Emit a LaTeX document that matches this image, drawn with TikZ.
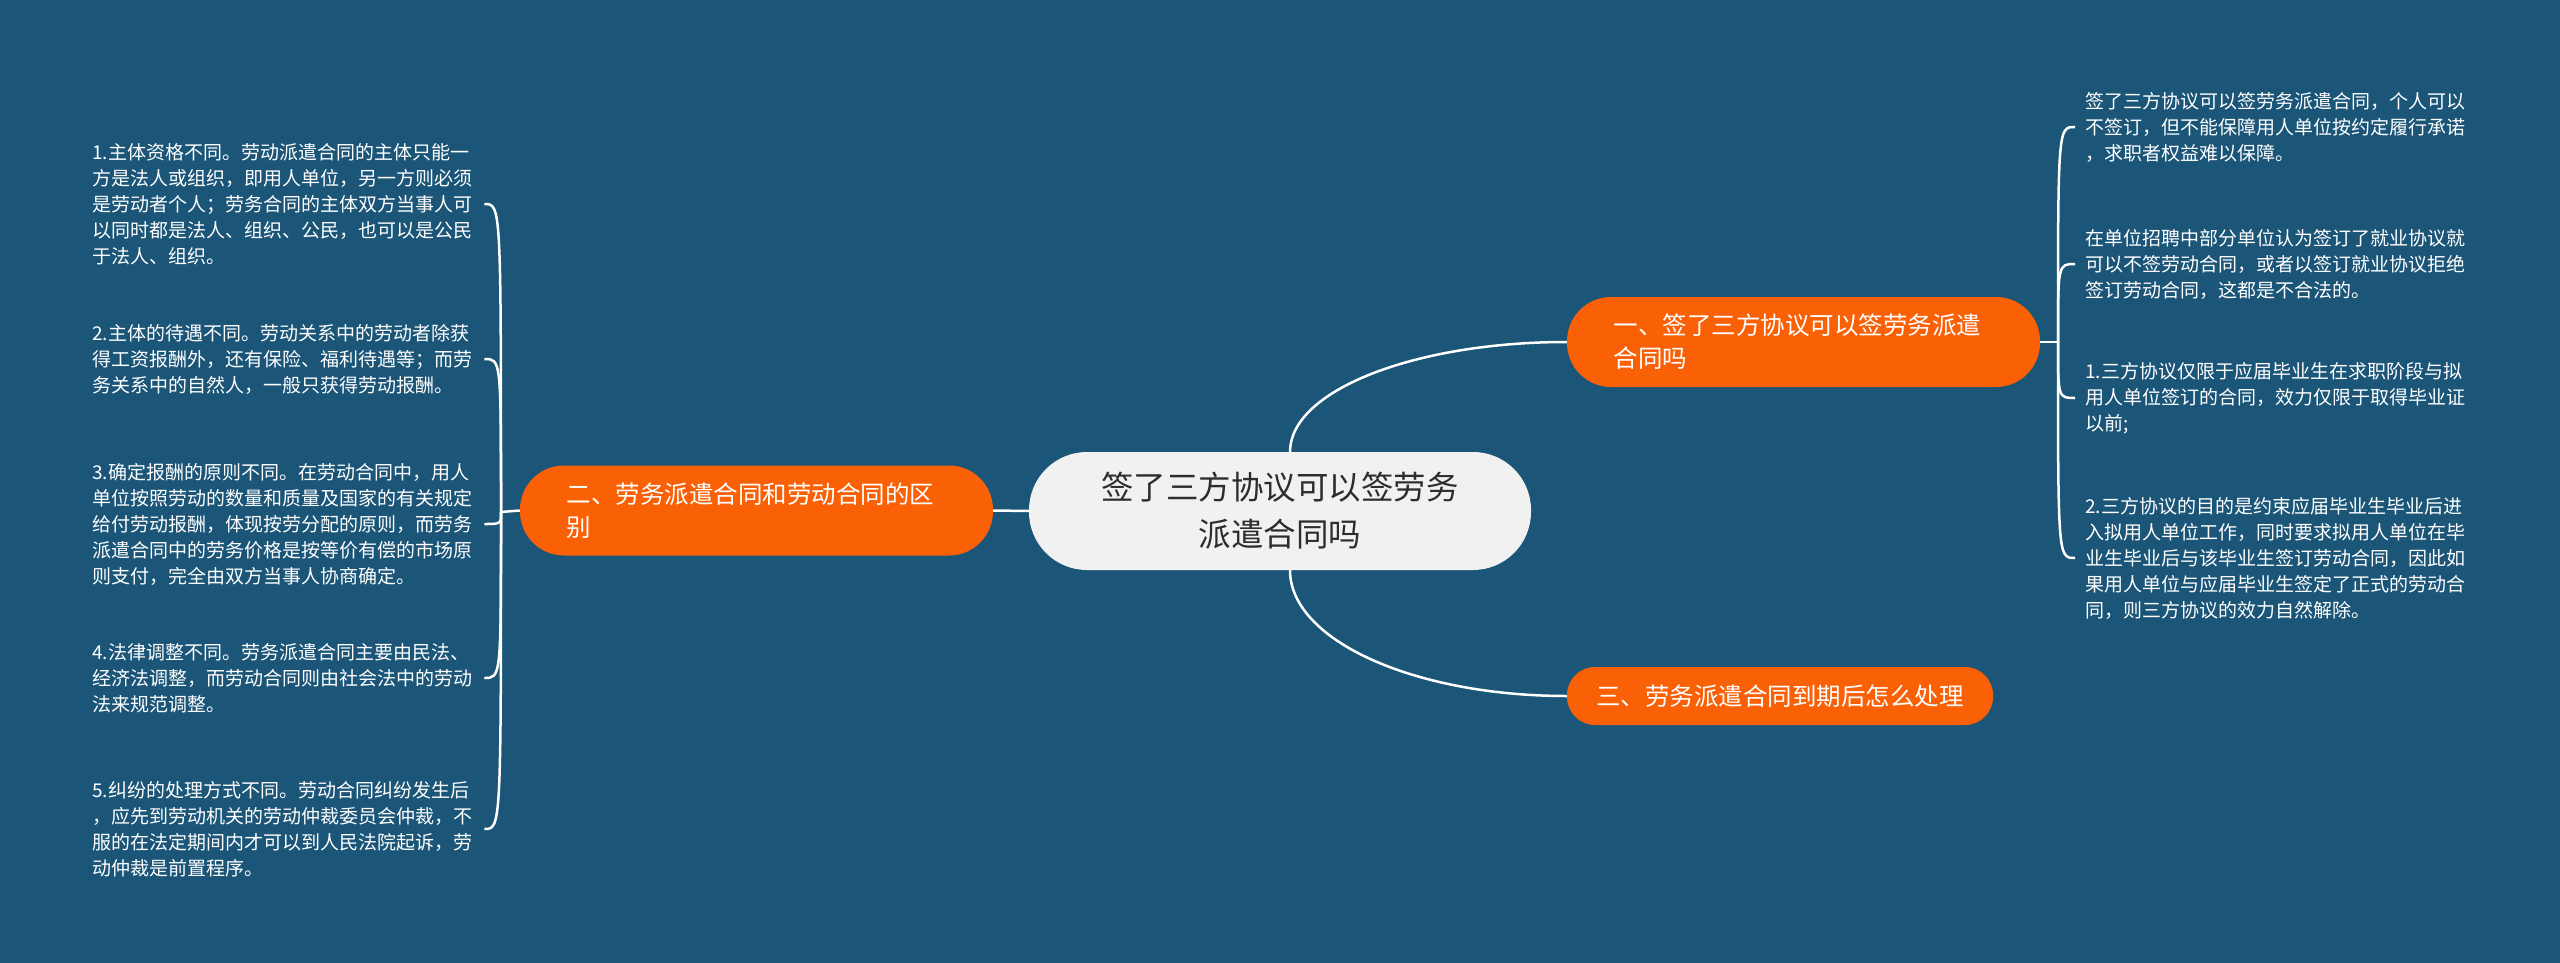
\documentclass[tikz,border=0pt]{standalone}
\usepackage{fontspec}
\usepackage{xcolor}
\usepackage{tikz}
\newfontfamily\cjkfont{Noto Sans CJK SC}
\definecolor{mapbg}{RGB}{27,85,120}
\definecolor{branchorange}{RGB}{250,96,5}
\definecolor{rootgray}{RGB}{241,241,241}
\definecolor{rootink}{RGB}{45,45,45}

\begin{document}
\begin{tikzpicture}[x=1pt,y=-1pt,
  root/.style={fill=rootgray,text=rootink,align=center,rounded corners=58pt,
    minimum width=502pt,minimum height=118pt,
    font=\cjkfont\fontsize{32.5}{47}\selectfont},
  branch/.style={fill=branchorange,text=white,align=left,rounded corners=44pt,
    text width=380pt,inner xsep=46.5pt,minimum height=90pt,
    font=\cjkfont\fontsize{24.5}{33}\selectfont},
  leaf/.style={text=white,align=left,inner sep=0pt,
    font=\cjkfont\fontsize{19}{26}\selectfont},
  link/.style={white,line width=2.5pt}]
  \fill[mapbg] (0,0) rectangle (2560,963);
  \useasboundingbox (0,0) rectangle (2560,963);

  \node[root] (root) at (1280,511) {签了三方协议可以签劳务\\派遣合同吗};
  \node[branch] (b1) at (1803.5,342) {一、签了三方协议可以签劳务派遣\\合同吗};
  \node[branch] (b2) at (756.5,510.5) {二、劳务派遣合同和劳动合同的区\\别};
  \node[branch,text width=368pt,inner xsep=29pt,minimum height=58pt,
    rounded corners=28pt] (b3) at (1780,696) {三、劳务派遣合同到期后怎么处理};

  \node[leaf,anchor=west] (r1) at (2085,127)
    {签了三方协议可以签劳务派遣合同，个人可以\\不签订，但不能保障用人单位按约定履行承诺\\，求职者权益难以保障。};
  \node[leaf,anchor=west] (r2) at (2085,264)
    {在单位招聘中部分单位认为签订了就业协议就\\可以不签劳动合同，或者以签订就业协议拒绝\\签订劳动合同，这都是不合法的。};
  \node[leaf,anchor=west] (r3) at (2085,398)
    {1.三方协议仅限于应届毕业生在求职阶段与拟\\用人单位签订的合同，效力仅限于取得毕业证\\以前;};
  \node[leaf,anchor=west] (r4) at (2085,558)
    {2.三方协议的目的是约束应届毕业生毕业后进\\入拟用人单位工作，同时要求拟用人单位在毕\\业生毕业后与该毕业生签订劳动合同，因此如\\果用人单位与应届毕业生签定了正式的劳动合\\同，则三方协议的效力自然解除。};

  \node[leaf,anchor=west] (l1) at (92,204)
    {1.主体资格不同。劳动派遣合同的主体只能一\\方是法人或组织，即用人单位，另一方则必须\\是劳动者个人；劳务合同的主体双方当事人可\\以同时都是法人、组织、公民，也可以是公民\\于法人、组织。};
  \node[leaf,anchor=west] (l2) at (92,359)
    {2.主体的待遇不同。劳动关系中的劳动者除获\\得工资报酬外，还有保险、福利待遇等；而劳\\务关系中的自然人，一般只获得劳动报酬。};
  \node[leaf,anchor=west] (l3) at (92,524)
    {3.确定报酬的原则不同。在劳动合同中，用人\\单位按照劳动的数量和质量及国家的有关规定\\给付劳动报酬，体现按劳分配的原则，而劳务\\派遣合同中的劳务价格是按等价有偿的市场原\\则支付，完全由双方当事人协商确定。};
  \node[leaf,anchor=west] (l4) at (92,678)
    {4.法律调整不同。劳务派遣合同主要由民法、\\经济法调整，而劳动合同则由社会法中的劳动\\法来规范调整。};
  \node[leaf,anchor=west] (l5) at (92,829)
    {5.纠纷的处理方式不同。劳动合同纠纷发生后\\，应先到劳动机关的劳动仲裁委员会仲裁，不\\服的在法定期间内才可以到人民法院起诉，劳\\动仲裁是前置程序。};

  \coordinate (rhub) at (2058,342);
  \coordinate (lhub) at (501,512);

  \draw[link] (root.west) -- (b2.east);
  \draw[link] ([xshift=10pt]root.north) .. controls ([xshift=10pt,yshift=61pt]root.north)
    and ([xshift=-153pt]b1.west) .. (b1.west);
  \draw[link] ([xshift=10pt]root.south) .. controls ([xshift=10pt,yshift=-70pt]root.south)
    and ([xshift=-153pt]b3.west) .. (b3.west);

  \draw[link] (b1.east) -- (rhub);
  \foreach \n in {r1,r2,r3,r4}
    \draw[link] (rhub) .. controls (rhub |- \n.west) .. ([xshift=-10pt]\n.west);

  \draw[link] (b2.west) -- (lhub);
  \foreach \n in {l1,l2,l3,l4,l5}
    \draw[link] (lhub) .. controls (lhub |- \n.east) .. ([xshift=12pt]\n.east);
\end{tikzpicture}
\end{document}
